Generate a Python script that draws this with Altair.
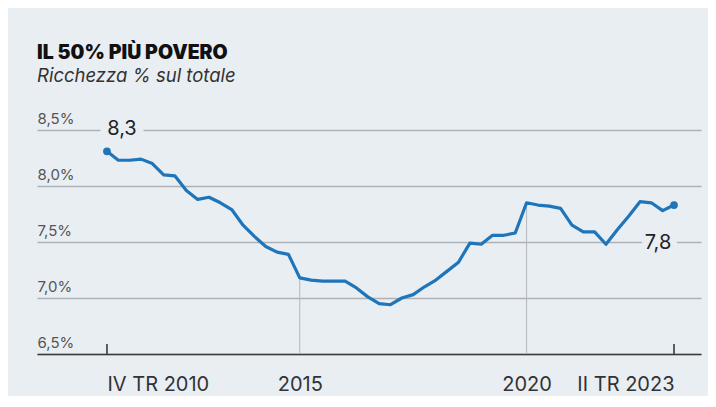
import altair as alt
import pandas as pd

# ---- data ----
title_text = "IL 50% PIÙ POVERO"
subtitle_text = "Ricchezza % sul totale"
first_year, first_q = 2010, 4
values = [8.31, 8.23, 8.23, 8.24, 8.20, 8.10, 8.09, 7.96, 7.88, 7.90,
          7.85, 7.79, 7.65, 7.55, 7.46, 7.41, 7.39, 7.18, 7.16, 7.15,
          7.15, 7.15, 7.09, 7.01, 6.95, 6.94, 7.00, 7.03, 7.10, 7.16,
          7.24, 7.32, 7.49, 7.48, 7.56, 7.56, 7.58, 7.85, 7.83, 7.82,
          7.80, 7.65, 7.59, 7.59, 7.48, 7.61, 7.73, 7.86, 7.85, 7.78, 7.83]
x_tick_idx = [0, 17, 37, 50]
x_tick_labels = ["IV TR 2010", "2015", "2020", "II TR 2023"]
ref_line_idx = [17, 37]          # 2015 and 2020 reference lines
y_ticks = [6.5, 7.0, 7.5, 8.0, 8.5]

PANEL = "#e9eef3"
BLUE = "#1f75ba"
W, H = 664, 224

n = len(values)
quarters = []
yy, qq = first_year, first_q
for _ in range(n):
    quarters.append(f"{yy}-Q{qq}")
    qq += 1
    if qq > 4:
        qq, yy = 1, yy + 1

df = pd.DataFrame({"i": list(range(n)), "quarter": quarters, "v": values})
df["lab"] = [f"{v:.1f}".replace(".", ",") for v in values]

x_scale = alt.Scale(domain=[-6.17, 52.38], nice=False, zero=False)
y_scale = alt.Scale(domain=[6.5, 8.5], nice=False, zero=False)

label_expr = "".join(f"datum.value == {i} ? '{t}' : " for i, t in zip(x_tick_idx, x_tick_labels)) + "''"
align_expr = f"datum.value == {x_tick_idx[0]} ? 'left' : datum.value == {x_tick_idx[-1]} ? 'right' : 'center'"

x_axis = alt.Axis(values=x_tick_idx, labelExpr=label_expr, grid=False, ticks=False, tickSize=0,
                  domain=True, domainColor="#3a3a3a", domainWidth=1.6, labelPadding=20,
                  labelFont="Inter", labelFontSize=20, labelColor="#333333",
                  labelAlign=alt.ExprRef(expr=align_expr), labelBaseline="top", title=None)
y_axis = alt.Axis(values=y_ticks, grid=True, gridColor="#aeb2b6", gridWidth=1.5,
                  domain=False, ticks=False, tickSize=0, labelAlign="left",
                  labelBaseline="alphabetic", labelPadding=0, labelOffset=-7,
                  labelExpr="replace(format(datum.value, '.1f'), '.', ',') + '%'",
                  labelFont="Inter", labelFontSize=15, labelColor="#555555", title=None)

base = alt.Chart(df)
X = alt.X("i:Q", scale=x_scale, axis=x_axis)
Y = alt.Y("v:Q", scale=y_scale, axis=y_axis)

vlines = base.transform_filter(alt.FieldOneOfPredicate(field="i", oneOf=ref_line_idx)).mark_rule(
    color="#b3b7bb", strokeWidth=1).encode(x=X, y=Y, y2=alt.value(H))

ends = base.transform_filter(alt.FieldOneOfPredicate(field="i", oneOf=[0, n - 1]))
end_ticks = ends.mark_rule(color="#3a3a3a", strokeWidth=1.6).encode(
    x=X, y=alt.value(H - 10), y2=alt.value(H))

first = base.transform_filter(alt.datum.i == 0)
last = base.transform_filter(alt.datum.i == n - 1)

def label_layers(src, dx, dy, halo):
    common = dict(font="Inter", fontSize=20, dx=dx, dy=dy, align="center", baseline="middle")
    h = src.mark_text(stroke=PANEL, strokeWidth=halo, strokeJoin="round", color=PANEL, **common).encode(
        x=X, y=Y, text="lab:N")
    t = src.mark_text(color="#222222", **common).encode(x=X, y=Y, text="lab:N")
    return h, t

h1, t1 = label_layers(first, 15, -22, 16)
h2, t2 = label_layers(last, -16, 38, 14)

line = base.mark_line(color=BLUE, strokeWidth=3.2, strokeJoin="round").encode(x=X, y=Y)
dots = ends.mark_circle(color=BLUE, size=60, opacity=1).encode(x=X, y=Y)

chart = alt.layer(vlines, end_ticks, h1, h2, line, dots, t1, t2).properties(
    width=W, height=H,
    padding={"left": 29, "top": 122, "right": 7, "bottom": 42},
    autosize=alt.AutoSizeParams(type="none"),
    background=PANEL,
    title=alt.Title(text=title_text, subtitle=subtitle_text, anchor="start", frame="group",
                    offset=25, font="Inter", fontSize=19.5, fontWeight=900, color="#111111",
                    subtitleFont="Inter", subtitleFontSize=18.5, subtitleFontStyle="italic",
                    subtitleColor="#333333", subtitlePadding=3),
).configure_view(stroke=None)

chart.save("out.html", embed_options={"renderer": "svg", "actions": False})
